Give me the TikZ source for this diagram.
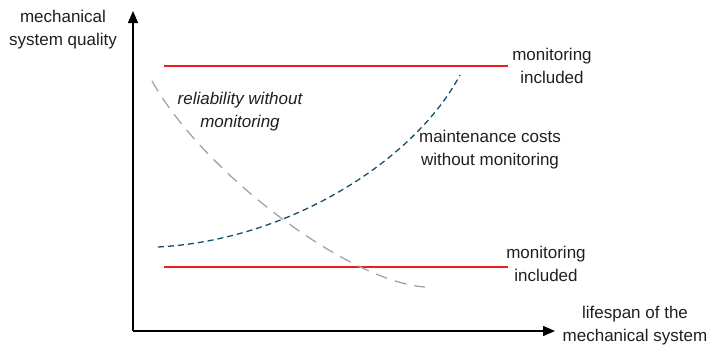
\documentclass[tikz,border=0pt]{standalone}
\usepackage{fontspec}
\setmainfont{Liberation Sans}
\usetikzlibrary{arrows.meta}
\definecolor{monred}{HTML}{EC1C24}
\definecolor{costblue}{HTML}{1B4D68}
\definecolor{relgray}{HTML}{A3A3A3}
\begin{document}
\begin{tikzpicture}[x=1pt,y=-1pt,
  lbl/.style={font=\fontsize{17}{23}\selectfont, align=center, inner sep=0pt, text=black!88},
  axis/.style={line width=1.4pt, -{Triangle[length=12pt,width=10pt]}},
  redline/.style={draw=monred, line width=2.9pt},
  costcurve/.style={draw=costblue, line width=1.3pt, dash pattern=on 6pt off 4pt},
  relcurve/.style={draw=relgray, line width=1.3pt, dash pattern=on 12pt off 8pt}]
\useasboundingbox (0,0) rectangle (710,346);
\coordinate (O) at (133,331);
\coordinate (ytip) at (133,11);
\coordinate (xtip) at (555,331);
\draw[axis] (O) -- (ytip);
\draw[axis] (O) -- (xtip);
\node[lbl] (ylab) at (63,30) {mechanical\\system quality};
\node[lbl] (xlab) at (635,326) {lifespan of the\\mechanical system};
\coordinate (t1) at (164,66);
\coordinate (t2) at (508,66);
\coordinate (b1) at (164,267);
\coordinate (b2) at (508,267);
\draw[redline] (t1) -- (t2);
\draw[redline] (b1) -- (b2);
\node[lbl] (toplab) at (552,66) {monitoring\\included};
\node[lbl] (botlab) at (546,264) {monitoring\\included};
\coordinate (r0) at (152,81);
\coordinate (r1) at (425,287);
\coordinate (c0) at (158,247);
\coordinate (c1) at (460,75);
\draw[relcurve] (r0) .. controls (205,175) and (350,282) .. (r1);
\draw[costcurve] (c0) .. controls (290,240) and (415,160) .. (c1);
\node[lbl, font=\fontsize{17}{23}\itshape] (rellab) at (240,112) {reliability without\\monitoring};
\node[lbl] (costlab) at (490,150) {maintenance costs\\without monitoring};
\end{tikzpicture}
\end{document}
